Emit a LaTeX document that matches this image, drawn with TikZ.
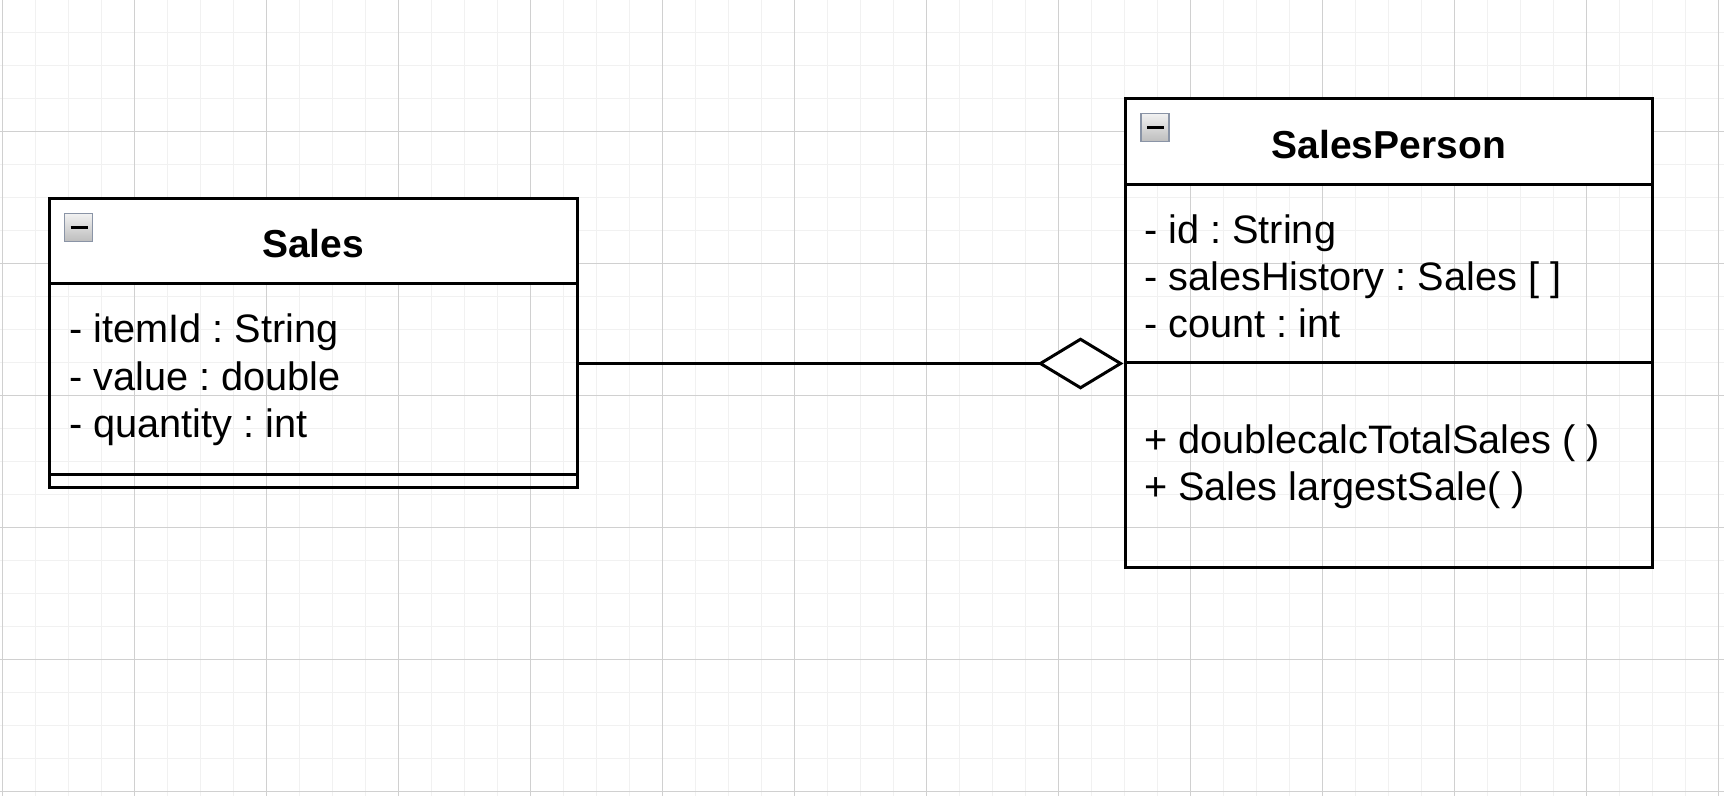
\documentclass[tikz,border=0pt]{standalone}
\usepackage{xcolor}
\usepackage{tikz}
\usepackage{fontspec}
\setmainfont{Liberation Sans}
\usetikzlibrary{arrows.meta}
\frenchspacing

\definecolor{gridminor}{HTML}{F1F1F1}
\definecolor{gridmajor}{HTML}{D0D0D0}
\definecolor{iconrim}{HTML}{8A94A6}
\definecolor{iconhi}{HTML}{F2F2F2}
\definecolor{iconlo}{HTML}{BDBDBD}

\tikzset{
  classhead/.style={draw, line width=3pt, fill=white, inner sep=0pt},
  classpart/.style={draw, line width=3pt, inner sep=0pt},
  classtitle/.style={anchor=base, inner sep=0pt, font=\bfseries\fontsize{39}{47}\selectfont},
  member/.style={anchor=base west, inner sep=0pt, font=\fontsize{39.7}{47}\selectfont},
  toggle/.style={draw=iconrim, line width=1.8pt, top color=iconhi, bottom color=iconlo,
    minimum size=28pt, inner sep=0pt,
    path picture={\draw[black, line width=3.5pt] ([xshift=6pt]path picture bounding box.west) -- ([xshift=-5pt]path picture bounding box.east);}},
  minorline/.style={gridminor, line width=1.5pt},
  majorline/.style={gridmajor, line width=1.2pt}
}

\begin{document}
\begin{tikzpicture}[x=1pt, y=-1pt]
            \useasboundingbox (0,0) rectangle (1724,796);
            \fill[white] (0,0) rectangle (1724,796);

            % Grid
            \foreach \k in {0,...,52} \draw[minorline] (2.7+33*\k,0) -- (2.7+33*\k,796);
            \foreach \k in {0,...,24} \draw[minorline] (0,33*\k-0.5) -- (1724,33*\k-0.5);
            \foreach \k in {0,...,13} \draw[majorline] (2.7+132*\k,0) -- (2.7+132*\k,796);
            \foreach \k in {0,...,6} \draw[majorline] (0,132*\k-0.5) -- (1724,132*\k-0.5);

            % Sales
            \node[classhead, minimum width=527.5pt, minimum height=85pt] (sales) at (313.25,240.5) {};
            \node[classpart, minimum width=527.5pt, minimum height=191pt] (salesattrs) at (313.25,378.5) {};
            \node[classpart, minimum width=527.5pt, minimum height=13pt] (salesops) at (313.25,480.5) {};
            \node[classtitle] (salestitle) at (313.25,257) {Sales};
            \node[toggle] (salestoggle) at (78.5,227.5) {};
            \node[member] (itemid) at (69,342) {- itemId : String};
            \node[member] (value) at (69,390) {- value : double};
            \node[member] (quantity) at (69,437.5) {- quantity : int};

            % SalesPerson
            \node[classhead, minimum width=527.6pt, minimum height=86.5pt] (person) at (1388.8,141.25) {};
            \node[classpart, minimum width=527.6pt, minimum height=177.5pt] (personattrs) at (1388.8,273.25) {};
            \node[classpart, minimum width=527.6pt, minimum height=205pt] (personops) at (1388.8,464.5) {};
            \node[classtitle] (persontitle) at (1388.8,158) {SalesPerson};
            \node[toggle] (persontoggle) at (1155,127.5) {};
            \node[member] (id) at (1144,243.5) {- id : String};
            \node[member] (history) at (1144,290.5) {- salesHistory : Sales [ ]};
            \node[member] (count) at (1144,337) {- count : int};
            \node[member] (calctotal) at (1144,453) {+ doublecalcTotalSales ( )};
            \node[member] (largest) at (1144,500) {+ Sales largestSale( )};

            % Aggregation
            \draw[line width=3pt, -{Diamond[fill=white, length=86pt, width=52pt]}] (salesattrs.east |- personattrs.south west) -- (personattrs.south west);
\end{tikzpicture}
\end{document}
